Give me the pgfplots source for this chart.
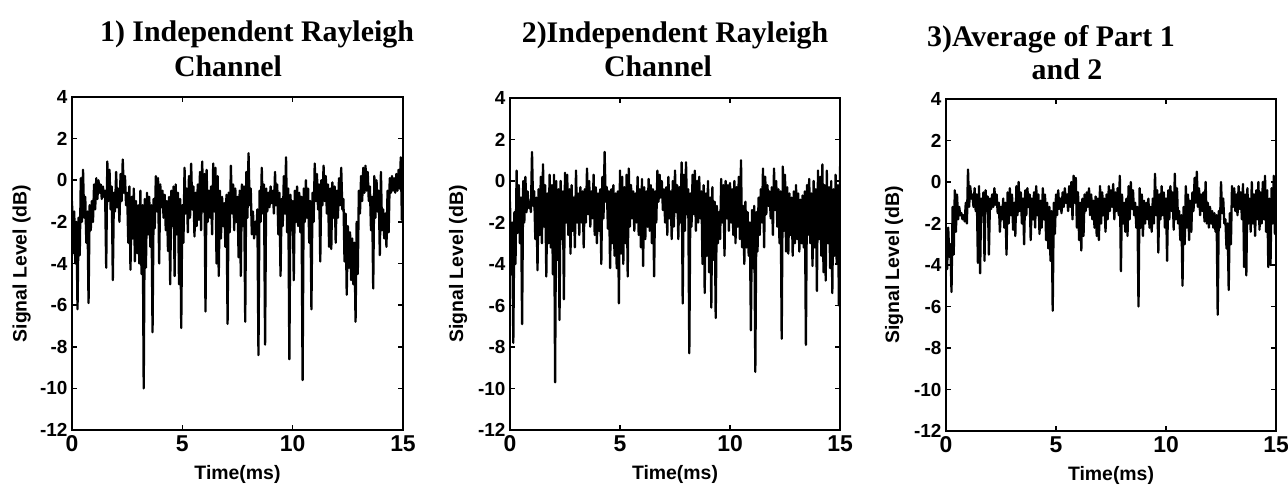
\documentclass[border=0pt]{standalone}
\usepackage{pgfplots}
\pgfplotsset{compat=1.18}
\usepackage{fontspec}
\setmainfont{Liberation Sans}
\newfontfamily\titlefont{Liberation Serif}

\pgfplotsset{
  sigax/.style={
    scale only axis,
    xmin=0, xmax=15, ymin=-12, ymax=4,
    xtick={0,5,10,15}, ytick={-12,-10,...,4},
    tick align=inside,
    major tick length=5bp,
    tick style={line width=1.6bp, black},
    axis line style={line width=2.6bp, black},
    /pgf/number format/assume math mode=true,
    xticklabel style={font=\fontsize{23}{23}\selectfont\bfseries, yshift=-2bp},
    yticklabel style={font=\fontsize{19}{19}\selectfont\bfseries, xshift=-1bp},
    label style={font=\fontsize{19.5}{19.5}\selectfont\bfseries},
    xlabel={Time(ms)},
    ylabel={Signal Level (dB)},
    xlabel style={at={(axis description cs:0.5,-0.135)}, anchor=center},
    ylabel style={at={(axis description cs:-0.152,0.5)}, anchor=center},
  },
  trace/.style={black, line width=2.3bp, line join=round, mark=none},
}

\begin{document}
\begin{tikzpicture}
\useasboundingbox (0,0) rectangle (1288bp,487bp);

% Part 1: first independent Rayleigh channel
\begin{axis}[sigax, at={(72bp,57bp)}, anchor=south west, width=331bp, height=333bp]
\addplot[trace] coordinates {
(0,-1.0)(0.05,-3.5)(0.1,-1.5)(0.15,-4.0)(0.2,-2.0)(0.25,-6.2)(0.3,-1.8)(0.35,-3.6)(0.4,0.1)(0.45,-2.0)(0.5,0.5)(0.55,-1.8)(0.6,-0.8)(0.65,-3.0)(0.7,-1.5)(0.75,-5.9)(0.8,-1.2)(0.85,-2.4)(0.9,-1.0)(0.95,-2.0)
(1.0,-0.2)(1.05,-1.4)(1.1,0.1)(1.15,-0.9)(1.2,0.0)(1.25,-0.6)(1.3,-0.2)(1.35,-0.9)(1.4,-0.3)(1.45,-0.8)(1.5,-0.5)(1.55,-4.2)(1.6,0.9)(1.65,-1.0)(1.7,0.5)(1.75,-1.4)(1.8,-0.3)(1.85,-4.8)(1.9,-0.6)(1.95,-1.5)
(2.0,0.4)(2.05,-1.3)(2.1,-0.4)(2.15,-2.0)(2.2,0.3)(2.25,-1.0)(2.3,1.0)(2.35,-0.6)(2.4,0.2)(2.45,-1.2)(2.5,-0.6)(2.55,-3.0)(2.6,-0.3)(2.65,-4.3)(2.7,-0.8)(2.75,-2.8)(2.8,-0.4)(2.85,-3.9)(2.9,-1.0)(2.95,-3.5)
(3.0,-1.2)(3.05,-4.0)(3.1,-0.5)(3.15,-4.5)(3.2,-1.2)(3.25,-10.0)(3.3,-0.9)(3.35,-4.2)(3.4,-0.6)(3.45,-2.6)(3.5,-0.8)(3.55,-3.2)(3.6,-1.2)(3.65,-7.3)(3.7,-0.9)(3.75,-2.3)(3.8,0.2)(3.85,-1.5)(3.9,0.1)(3.95,-4.0)
(4.0,-0.2)(4.05,-1.3)(4.1,-0.5)(4.15,-1.8)(4.2,-0.7)(4.25,-2.4)(4.3,-1.0)(4.35,-3.4)(4.4,-0.8)(4.45,-5.0)(4.5,-0.5)(4.55,-2.2)(4.6,-0.3)(4.65,-4.6)(4.7,-0.2)(4.75,-2.6)(4.8,-0.6)(4.85,-5.0)(4.9,-0.9)(4.95,-7.1)
(5.0,-1.2)(5.05,-3.0)(5.1,0.6)(5.15,-1.6)(5.2,-0.4)(5.25,-2.5)(5.3,0.2)(5.35,-1.8)(5.4,0.8)(5.45,-1.4)(5.5,-0.3)(5.55,-2.7)(5.6,-0.6)(5.65,-2.2)(5.7,-0.2)(5.75,-1.9)(5.8,0.4)(5.85,-2.4)(5.9,0.9)(5.95,-1.5)
(6.0,0.3)(6.05,-6.3)(6.1,0.5)(6.15,-2.0)(6.2,-0.5)(6.25,-1.8)(6.3,-0.3)(6.35,-2.6)(6.4,0.8)(6.45,-1.5)(6.5,0.6)(6.55,-4.0)(6.6,0.2)(6.65,-4.6)(6.7,-0.5)(6.75,-2.8)(6.8,-0.8)(6.85,-2.2)(6.9,-1.1)(6.95,-3.2)
(7.0,-0.7)(7.05,-6.9)(7.1,-0.6)(7.15,-2.5)(7.2,0.7)(7.25,-1.6)(7.3,-0.2)(7.35,-2.4)(7.4,-0.4)(7.45,-2.0)(7.5,-0.8)(7.55,-3.7)(7.6,-0.5)(7.65,-4.6)(7.7,-0.2)(7.75,-2.2)(7.8,-0.3)(7.85,-6.8)(7.9,0.4)(7.95,-1.8)
(8.0,1.3)(8.05,-1.2)(8.1,-0.4)(8.15,-2.6)(8.2,-1.5)(8.25,-2.8)(8.3,-2.0)(8.35,-2.6)(8.4,-1.4)(8.45,-8.4)(8.5,-0.5)(8.55,-2.0)(8.6,0.6)(8.65,-1.6)(8.7,-0.2)(8.75,-7.9)(8.8,-0.4)(8.85,-1.5)(8.9,-0.6)(8.95,-1.3)
(9.0,-0.3)(9.05,-1.1)(9.1,-0.5)(9.15,-1.6)(9.2,0.4)(9.25,-1.2)(9.3,-0.2)(9.35,-2.6)(9.4,-0.6)(9.45,-4.6)(9.5,-0.9)(9.55,-2.2)(9.6,0.2)(9.65,-1.6)(9.7,1.1)(9.75,-2.5)(9.8,-0.4)(9.85,-8.6)(9.9,-0.7)(9.95,-2.4)
(10.0,-1.0)(10.05,-4.8)(10.1,-0.5)(10.15,-2.0)(10.2,-0.3)(10.25,-2.2)(10.3,-0.6)(10.35,-2.5)(10.4,-0.8)(10.45,-9.6)(10.5,-0.4)(10.55,-2.0)(10.6,0.0)(10.65,-1.8)(10.7,-0.4)(10.75,-3.0)(10.8,-1.0)(10.85,-6.2)(10.9,-0.6)(10.95,-2.0)
(11.0,0.8)(11.05,-1.0)(11.1,0.3)(11.15,-1.4)(11.2,-0.2)(11.25,-3.9)(11.3,0.0)(11.35,-1.2)(11.4,0.7)(11.45,-1.0)(11.5,0.2)(11.55,-1.6)(11.6,-0.2)(11.65,-3.2)(11.7,-0.4)(11.75,-3.3)(11.8,-0.1)(11.85,-1.8)(11.9,-0.3)(11.95,-3.0)
(12.0,-0.5)(12.05,-1.8)(12.1,0.1)(12.15,-1.2)(12.2,0.6)(12.25,-1.4)(12.3,-0.9)(12.35,-3.9)(12.4,-1.6)(12.45,-5.5)(12.5,-2.2)(12.55,-4.2)(12.6,-2.5)(12.65,-4.8)(12.7,-2.8)(12.75,-5.0)(12.8,-3.0)(12.85,-6.8)(12.9,-2.0)(12.95,-4.5)
(13.0,-0.5)(13.05,-1.6)(13.1,0.2)(13.15,-1.0)(13.2,0.6)(13.25,-0.6)(13.3,0.7)(13.35,-0.5)(13.4,0.4)(13.45,-1.0)(13.5,-0.3)(13.55,-2.4)(13.6,-0.8)(13.65,-5.2)(13.7,0.2)(13.75,-1.8)(13.8,0.0)(13.85,-1.5)(13.9,-0.5)(13.95,-3.6)
(14.0,0.4)(14.05,-2.4)(14.1,-1.4)(14.15,-2.8)(14.2,-1.6)(14.25,-3.2)(14.3,-0.5)(14.35,-2.5)(14.4,0.1)(14.45,-0.6)(14.5,0.2)(14.55,-0.5)(14.6,0.1)(14.65,-0.6)(14.7,0.3)(14.75,-0.5)(14.8,0.5)(14.85,-0.4)(14.9,1.1)(14.95,-1.9)(15.0,-1.8)
};
\end{axis}

% Part 2: second independent Rayleigh channel
\begin{axis}[sigax, at={(510bp,57bp)}, anchor=south west, width=330bp, height=332bp,
  ylabel style={at={(axis description cs:-0.157,0.5)}}]
\addplot[trace] coordinates {
(0,-1.0)(0.05,-4.5)(0.1,-2.0)(0.15,-7.8)(0.2,-1.5)(0.25,-4.0)(0.3,0.5)(0.35,-2.5)(0.4,-0.2)(0.45,-3.0)(0.5,-0.8)(0.55,-6.9)(0.6,0.0)(0.65,-2.0)(0.7,0.2)(0.75,-1.5)(0.8,-0.5)(0.85,-1.3)(0.9,-1.0)(0.95,-1.5)
(1.0,1.4)(1.05,-1.2)(1.1,-0.5)(1.15,-2.8)(1.2,-0.8)(1.25,-4.3)(1.3,-0.4)(1.35,-2.6)(1.4,0.2)(1.45,-3.0)(1.5,0.8)(1.55,-2.2)(1.6,-0.2)(1.65,-4.6)(1.7,-0.6)(1.75,-3.0)(1.8,0.3)(1.85,-3.2)(1.9,-0.2)(1.95,-4.5)
(2.0,0.3)(2.05,-9.7)(2.1,0.0)(2.15,-3.8)(2.2,-0.4)(2.25,-6.7)(2.3,0.0)(2.35,-2.8)(2.4,-0.5)(2.45,-5.7)(2.5,0.4)(2.55,-2.0)(2.6,0.3)(2.65,-2.6)(2.7,-0.4)(2.75,-3.5)(2.8,-0.2)(2.85,-2.4)(2.9,-0.8)(2.95,-3.2)
(3.0,0.5)(3.05,-2.0)(3.1,-0.6)(3.15,-2.6)(3.2,-0.3)(3.25,-2.0)(3.3,-0.5)(3.35,-3.2)(3.4,-0.4)(3.45,-2.0)(3.5,0.6)(3.55,-1.6)(3.6,0.0)(3.65,-2.2)(3.7,-0.5)(3.75,-1.8)(3.8,0.3)(3.85,-2.6)(3.9,-0.3)(3.95,-3.0)
(4.0,-0.6)(4.05,-2.4)(4.1,-0.4)(4.15,-4.0)(4.2,0.2)(4.25,-1.8)(4.3,1.4)(4.35,-1.0)(4.4,-0.3)(4.45,-2.3)(4.5,-0.5)(4.55,-4.2)(4.6,-0.4)(4.65,-3.0)(4.7,-0.2)(4.75,-3.6)(4.8,-0.6)(4.85,-4.2)(4.9,-0.5)(4.95,-5.9)
(5.0,0.5)(5.05,-3.5)(5.1,0.2)(5.15,-4.0)(5.2,-0.3)(5.25,-3.0)(5.3,0.3)(5.35,-4.6)(5.4,0.6)(5.45,-2.2)(5.5,-0.2)(5.55,-1.8)(5.6,-0.5)(5.65,-2.4)(5.7,-0.6)(5.75,-2.0)(5.8,0.2)(5.85,-2.6)(5.9,-0.4)(5.95,-3.2)
(6.0,0.1)(6.05,-4.1)(6.1,-0.3)(6.15,-2.8)(6.2,-0.5)(6.25,-2.2)(6.3,0.1)(6.35,-2.4)(6.4,-0.2)(6.45,-3.0)(6.5,-0.4)(6.55,-4.6)(6.6,-0.5)(6.65,-2.0)(6.7,0.5)(6.75,-1.0)(6.8,0.3)(6.85,-0.8)(6.9,0.0)(6.95,-1.4)
(7.0,-0.4)(7.05,-2.0)(7.1,-0.3)(7.15,-2.6)(7.2,0.2)(7.25,-1.8)(7.3,-0.5)(7.35,-2.8)(7.4,0.0)(7.45,-2.2)(7.5,0.5)(7.55,-1.5)(7.6,-0.2)(7.65,-2.8)(7.7,-0.3)(7.75,-2.0)(7.8,0.9)(7.85,-5.9)(7.9,0.3)(7.95,-2.4)
(8.0,0.9)(8.05,-1.6)(8.1,-0.4)(8.15,-8.3)(8.2,-0.6)(8.25,-2.2)(8.3,0.3)(8.35,-1.6)(8.4,0.5)(8.45,-2.4)(8.5,0.0)(8.55,-2.0)(8.6,0.2)(8.65,-1.8)(8.7,-0.5)(8.75,-4.0)(8.8,-0.2)(8.85,-5.4)(8.9,-0.6)(8.95,-3.6)
(9.0,0.0)(9.05,-4.4)(9.1,-0.8)(9.15,-6.1)(9.2,-0.3)(9.25,-3.8)(9.3,-1.0)(9.35,-6.6)(9.4,-1.2)(9.45,-3.0)(9.5,-1.5)(9.55,-2.8)(9.6,0.1)(9.65,-2.0)(9.7,-0.2)(9.75,-3.6)(9.8,0.0)(9.85,-1.8)(9.9,-0.2)(9.95,-2.4)
(10.0,-0.1)(10.05,-2.0)(10.1,-0.4)(10.15,-2.6)(10.2,0.0)(10.25,-3.0)(10.3,-0.3)(10.35,-2.2)(10.4,0.2)(10.45,-2.8)(10.5,1.0)(10.55,-3.2)(10.6,-1.2)(10.65,-4.0)(10.7,-1.0)(10.75,-3.2)(10.8,-1.5)(10.85,-3.6)(10.9,-2.0)(10.95,-7.2)
(11.0,-1.4)(11.05,-4.2)(11.1,-1.2)(11.15,-9.2)(11.2,-1.5)(11.25,-3.4)(11.3,-0.8)(11.35,-2.6)(11.4,-0.4)(11.45,-2.0)(11.5,0.6)(11.55,-3.2)(11.6,0.2)(11.65,-1.6)(11.7,-0.2)(11.75,-1.2)(11.8,-0.5)(11.85,-1.8)(11.9,-0.3)(11.95,-2.6)
(12.0,0.6)(12.05,-1.4)(12.1,0.0)(12.15,-2.2)(12.2,-0.4)(12.25,-3.0)(12.3,-0.5)(12.35,-7.6)(12.4,0.7)(12.45,-2.4)(12.5,0.3)(12.55,-3.4)(12.6,-0.3)(12.65,-3.5)(12.7,-0.6)(12.75,-2.6)(12.8,-0.8)(12.85,-3.6)(12.9,-0.5)(12.95,-3.0)
(13.0,-0.2)(13.05,-2.8)(13.1,-0.6)(13.15,-3.4)(13.2,-0.9)(13.25,-3.0)(13.3,-0.7)(13.35,-3.2)(13.4,-0.5)(13.45,-7.9)(13.5,-0.2)(13.55,-2.6)(13.6,0.1)(13.65,-3.0)(13.7,-0.6)(13.75,-4.1)(13.8,0.0)(13.85,-3.2)(13.9,-0.4)(13.95,-5.3)
(14.0,0.5)(14.05,-2.8)(14.1,0.2)(14.15,-3.6)(14.2,0.8)(14.25,-4.4)(14.3,-0.2)(14.35,-4.8)(14.4,0.5)(14.45,-3.0)(14.5,-0.3)(14.55,-4.2)(14.6,0.0)(14.65,-5.4)(14.7,-0.4)(14.75,-3.6)(14.8,0.3)(14.85,-4.0)(14.9,-0.2)(14.95,-6.0)(15.0,-6.0)(15.0,0.7)
};
\end{axis}

% Part 3: average of parts 1 and 2
\begin{axis}[sigax, at={(946bp,56bp)}, anchor=south west, width=330bp, height=332bp,
  ylabel style={at={(axis description cs:-0.157,0.5)}}]
\addplot[trace] coordinates {
(0,-2.5)(0.05,-4.2)(0.1,-2.2)(0.15,-3.6)(0.2,-3.0)(0.25,-5.3)(0.3,-1.2)(0.35,-3.5)(0.4,-0.4)(0.45,-2.4)(0.5,-0.6)(0.55,-1.8)(0.6,-1.2)(0.65,-1.6)(0.7,-1.5)(0.75,-1.8)(0.8,-1.6)(0.85,-1.9)(0.9,-1.0)(0.95,-2.0)
(1.0,0.6)(1.05,-1.2)(1.1,-0.2)(1.15,-0.8)(1.2,-0.6)(1.25,-1.2)(1.3,-0.3)(1.35,-1.4)(1.4,-0.6)(1.45,-3.9)(1.5,-0.2)(1.55,-4.4)(1.6,-0.8)(1.65,-1.6)(1.7,-0.5)(1.75,-3.8)(1.8,-0.4)(1.85,-1.4)(1.9,-0.7)(1.95,-3.5)
(2.0,-0.8)(2.05,-1.3)(2.1,-0.6)(2.15,-1.2)(2.2,-0.3)(2.25,-1.1)(2.3,-0.6)(2.35,-1.5)(2.4,-1.0)(2.45,-2.4)(2.5,-1.2)(2.55,-1.8)(2.6,-0.8)(2.65,-2.2)(2.7,-1.0)(2.75,-3.5)(2.8,-0.5)(2.85,-2.0)(2.9,-0.3)(2.95,-1.6)
(3.0,-0.6)(3.05,-2.3)(3.1,-1.0)(3.15,-2.6)(3.2,-0.2)(3.25,-1.6)(3.3,0.0)(3.35,-1.4)(3.4,-0.5)(3.45,-2.0)(3.5,-0.8)(3.55,-3.0)(3.6,-0.4)(3.65,-1.6)(3.7,-0.3)(3.75,-1.2)(3.8,-0.6)(3.85,-2.8)(3.9,-0.8)(3.95,-1.8)
(4.0,-0.5)(4.05,-2.2)(4.1,-0.2)(4.15,-1.6)(4.2,-0.6)(4.25,-2.5)(4.3,-0.9)(4.35,-2.2)(4.4,-0.3)(4.45,-1.8)(4.5,-0.6)(4.55,-2.8)(4.6,-1.0)(4.65,-3.2)(4.7,-1.2)(4.75,-3.8)(4.8,-1.4)(4.85,-6.2)(4.9,-1.0)(4.95,-2.5)
(5.0,-0.6)(5.05,-1.6)(5.1,-0.4)(5.15,-1.3)(5.2,-0.8)(5.25,-1.5)(5.3,-0.5)(5.35,-1.2)(5.4,-0.3)(5.45,-1.0)(5.5,-0.6)(5.55,-1.4)(5.6,-0.2)(5.65,-1.2)(5.7,0.0)(5.75,-1.8)(5.8,0.3)(5.85,-1.0)(5.9,0.2)(5.95,-2.2)
(6.0,-0.5)(6.05,-2.8)(6.1,-1.0)(6.15,-3.3)(6.2,-0.8)(6.25,-2.6)(6.3,-0.6)(6.35,-1.4)(6.4,-0.5)(6.45,-1.2)(6.5,-0.3)(6.55,-1.6)(6.6,-0.6)(6.65,-1.8)(6.7,-0.9)(6.75,-2.2)(6.8,-0.7)(6.85,-2.6)(6.9,-0.8)(6.95,-2.8)
(7.0,-0.2)(7.05,-2.0)(7.1,-0.5)(7.15,-1.6)(7.2,-0.8)(7.25,-2.4)(7.3,-0.6)(7.35,-1.8)(7.4,-0.2)(7.45,-1.4)(7.5,-0.4)(7.55,-1.2)(7.6,-0.1)(7.65,-1.8)(7.7,-0.5)(7.75,-1.4)(7.8,-0.3)(7.85,-1.6)(7.9,0.3)(7.95,-4.3)
(8.0,-0.6)(8.05,-2.0)(8.1,-1.0)(8.15,-2.4)(8.2,-0.8)(8.25,-2.6)(8.3,-0.2)(8.35,-1.8)(8.4,0.0)(8.45,-1.3)(8.5,-0.4)(8.55,-1.6)(8.6,-1.0)(8.65,-2.2)(8.7,-1.2)(8.75,-6.0)(8.8,-0.3)(8.85,-2.2)(8.9,-0.6)(8.95,-2.6)
(9.0,-0.9)(9.05,-2.0)(9.1,-1.0)(9.15,-1.8)(9.2,-0.8)(9.25,-2.2)(9.3,-1.2)(9.35,-2.4)(9.4,-0.8)(9.45,-2.0)(9.5,0.4)(9.55,-1.6)(9.6,-0.4)(9.65,-3.4)(9.7,-0.6)(9.75,-1.8)(9.8,-0.2)(9.85,-1.6)(9.9,-0.5)(9.95,-2.2)
(10.0,-0.8)(10.05,-3.8)(10.1,-0.4)(10.15,-1.8)(10.2,-0.2)(10.25,-1.4)(10.3,-0.5)(10.35,-2.3)(10.4,0.4)(10.45,-1.8)(10.5,-0.3)(10.55,-2.0)(10.6,-1.4)(10.65,-2.8)(10.7,-1.6)(10.75,-5.0)(10.8,-1.2)(10.85,-3.0)(10.9,-0.2)(10.95,-2.2)
(11.0,-0.6)(11.05,-2.8)(11.1,-0.9)(11.15,-2.4)(11.2,-0.5)(11.25,-1.4)(11.3,0.2)(11.35,-1.0)(11.4,0.5)(11.45,-1.2)(11.5,-0.3)(11.55,-1.6)(11.6,-0.6)(11.65,-1.4)(11.7,-0.5)(11.75,-1.9)(11.8,0.0)(11.85,-2.0)(11.9,-1.0)(11.95,-2.2)
(12.0,-1.2)(12.05,-2.0)(12.1,-1.4)(12.15,-2.2)(12.2,-1.5)(12.25,-2.4)(12.3,-1.6)(12.35,-6.4)(12.4,-1.4)(12.45,-2.2)(12.5,0.0)(12.55,-1.5)(12.6,-0.8)(12.65,-2.0)(12.7,-1.8)(12.75,-3.2)(12.8,-2.0)(12.85,-5.2)(12.9,-1.5)(12.95,-3.0)
(13.0,-0.2)(13.05,-1.2)(13.1,-0.3)(13.15,-1.4)(13.2,-0.6)(13.25,-1.6)(13.3,-0.2)(13.35,-1.3)(13.4,-0.5)(13.45,-1.8)(13.5,-0.1)(13.55,-4.1)(13.6,-0.6)(13.65,-4.5)(13.7,-0.3)(13.75,-2.0)(13.8,-0.8)(13.85,-2.4)(13.9,0.0)(13.95,-2.0)
(14.0,-0.6)(14.05,-2.6)(14.1,-0.4)(14.15,-1.8)(14.2,0.0)(14.25,-2.3)(14.3,-0.5)(14.35,-2.0)(14.4,0.0)(14.45,-1.8)(14.5,0.3)(14.55,-2.4)(14.6,-0.4)(14.65,-4.1)(14.7,-0.8)(14.75,-4.0)(14.8,-0.3)(14.85,-2.0)(14.9,0.3)(14.95,-2.5)(15.0,-1.5)
};
\end{axis}

% Panel titles
\begin{scope}[every node/.style={anchor=base, inner sep=0pt, font=\titlefont\bfseries\fontsize{30}{30}\selectfont}]
\node at (257bp,445bp) {1) Independent Rayleigh};
\node at (228bp,410bp) {Channel};
\node at (675bp,444bp) {2)Independent Rayleigh};
\node at (658bp,410bp) {Channel};
\node at (1051bp,440bp) {3)Average of Part 1};
\node at (1067bp,407bp) {and 2};
\end{scope}
\end{tikzpicture}
\end{document}
